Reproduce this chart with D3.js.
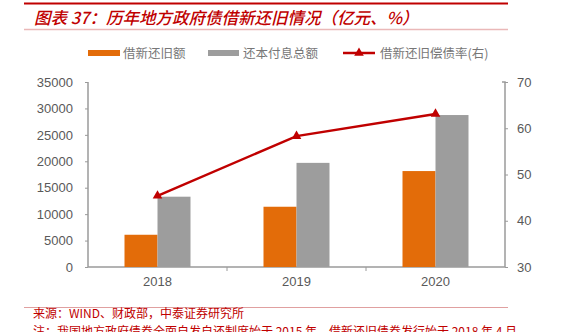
<!DOCTYPE html>
<html><head><meta charset="utf-8">
<script src="https://cdn.jsdelivr.net/npm/d3@7"></script>
<style>body{margin:0;background:#fff;} svg{display:block;}</style>
</head><body>
<svg id="c" width="562" height="332"></svg>
<script>
const categories = ["2018", "2019", "2020"];
const refinance = [6100, 11400, 18150];       // 借新还旧额
const debtService = [13300, 19700, 28750];    // 还本付息总额
const ratio = [45.4, 58.3, 63.1];             // 借新还旧偿债率(右)
const leftTicks = [0, 5000, 10000, 15000, 20000, 25000, 30000, 35000];
const rightTicks = [30, 40, 50, 60, 70];
const seriesNames = ["借新还旧额", "还本付息总额", "借新还旧偿债率(右)"];
const titleText = "图表 37：历年地方政府债借新还旧情况（亿元、%）";
const sourceText = "来源：WIND、财政部，中泰证券研究所";
const noteText = "注：我国地方政府债券全面自发自还制度始于 2015 年，借新还旧债券发行始于 2018 年 4 月";

const svg = d3.select("#c");
const cjk = "'Noto Sans CJK SC', sans-serif";
const latin = "'Liberation Sans', Arial, sans-serif";
const red = "#c00000";
const axisCol = "#9a9a9a";
const textCol = "#595959";

// header
svg.append("line").attr("x1",24).attr("x2",508).attr("y1",3.5).attr("y2",3.5).attr("stroke","#c00000").attr("stroke-width",2);
svg.append("text").attr("x",34).attr("y",24).attr("fill",red).attr("font-family",cjk)
  .attr("font-size",16.5).attr("font-style","italic").attr("font-weight","500")
  .text(titleText);
svg.append("line").attr("x1",24).attr("x2",508).attr("y1",29.5).attr("y2",29.5).attr("stroke","#eab8b8").attr("stroke-width",1.5);

// scales
const x = d3.scaleBand().domain(categories).range([88,505]);
const yL = d3.scaleLinear().domain([0,35000]).range([267,82]);
const yR = d3.scaleLinear().domain([30,70]).range([267,82]);
const bw = 33;

// axes
const gL = svg.append("g").attr("transform","translate(88,0)")
  .call(d3.axisLeft(yL).tickValues(leftTicks).tickSize(3).tickPadding(12).tickFormat(d3.format("d")));
const gR = svg.append("g").attr("transform","translate(505,0)")
  .call(d3.axisRight(yR).tickValues(rightTicks).tickSize(3).tickPadding(9));
const gX = svg.append("g").attr("transform","translate(0,267)")
  .call(d3.axisBottom(x).tickSize(0).tickPadding(10));
[gL,gR,gX].forEach(g=>{
  g.selectAll("path").attr("stroke",axisCol).attr("stroke-width",1.5);
  g.selectAll("line").attr("stroke",axisCol);
  g.selectAll("text").attr("fill",textCol).attr("font-family",latin).attr("font-size",13);
});
gL.select(".domain").attr("d","M-0,82V267");
gR.select(".domain").attr("d","M-3,82H0V267");
gX.select(".domain").attr("d","M88,0H505");
// category separator ticks
svg.append("g").selectAll("line").data(categories.slice(1)).join("line")
  .attr("x1",d=>x(d)).attr("x2",d=>x(d)).attr("y1",267).attr("y2",271).attr("stroke",axisCol);

// bars
const cx = d => x(d) + x.bandwidth()/2;
svg.append("g").selectAll("rect").data(categories).join("rect")
  .attr("x",d=>cx(d)-bw).attr("width",bw)
  .attr("y",(d,i)=>yL(refinance[i])).attr("height",(d,i)=>yL(0)-yL(refinance[i]))
  .attr("fill","#e36c09");
svg.append("g").selectAll("rect").data(categories).join("rect")
  .attr("x",d=>cx(d)).attr("width",bw)
  .attr("y",(d,i)=>yL(debtService[i])).attr("height",(d,i)=>yL(0)-yL(debtService[i]))
  .attr("fill","#9d9d9d");

// line
const line = d3.line().x((d,i)=>cx(categories[i])).y(d=>yR(d));
svg.append("path").datum(ratio).attr("d",line).attr("fill","none").attr("stroke",red).attr("stroke-width",2.5);
const tri = d3.symbol().type(d3.symbolTriangle).size(40);
svg.append("g").selectAll("path").data(ratio).join("path")
  .attr("transform",(d,i)=>`translate(${cx(categories[i])},${yR(d)})`).attr("d",tri).attr("fill",red);

// legend
const lg = svg.append("g").attr("font-family",cjk).attr("font-size",12.5).attr("fill","#777");
lg.append("rect").attr("x",88).attr("y",50).attr("width",32).attr("height",6).attr("fill","#e36c09");
lg.append("text").attr("x",123).attr("y",58).text(seriesNames[0]);
lg.append("rect").attr("x",208).attr("y",50).attr("width",31).attr("height",6).attr("fill","#9d9d9d");
lg.append("text").attr("x",243).attr("y",58).text(seriesNames[1]);
lg.append("line").attr("x1",343).attr("x2",375).attr("y1",53).attr("y2",53).attr("stroke",red).attr("stroke-width",2.5);
lg.append("path").attr("transform","translate(359,53)").attr("d",tri).attr("fill",red);
lg.append("text").attr("x",380).attr("y",58).text(seriesNames[2]);

// footer
svg.append("line").attr("x1",24).attr("x2",508).attr("y1",307.5).attr("y2",307.5).attr("stroke","#e0a0a0").attr("stroke-width",1);
svg.append("text").attr("x",33).attr("y",318).attr("fill",red).attr("font-family",cjk).attr("font-size",12).text(sourceText);
svg.append("text").attr("x",33).attr("y",336).attr("fill",red).attr("font-family",cjk).attr("font-size",12).text(noteText);
</script>
</body></html>
